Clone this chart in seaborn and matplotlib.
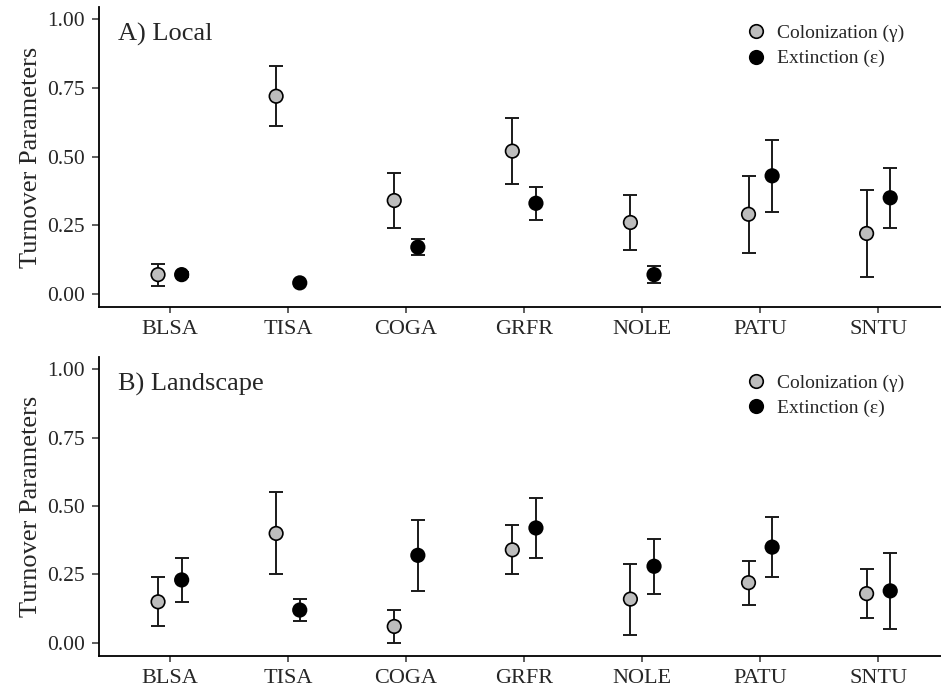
import numpy as np
import pandas as pd
import matplotlib
matplotlib.use("Agg")
import matplotlib.pyplot as plt
import seaborn as sns

species = ["BLSA", "TISA", "COGA", "GRFR", "NOLE", "PATU", "SNTU"]

# A) Local
loc_col = [0.07, 0.72, 0.34, 0.52, 0.26, 0.29, 0.22]
loc_col_lo = [0.03, 0.61, 0.24, 0.40, 0.16, 0.15, 0.06]
loc_col_hi = [0.11, 0.83, 0.44, 0.64, 0.36, 0.43, 0.38]
loc_ext = [0.07, 0.04, 0.17, 0.33, 0.07, 0.43, 0.35]
loc_ext_lo = [0.06, 0.04, 0.14, 0.27, 0.04, 0.30, 0.24]
loc_ext_hi = [0.08, 0.04, 0.20, 0.39, 0.10, 0.56, 0.46]

# B) Landscape
lan_col = [0.15, 0.40, 0.06, 0.34, 0.16, 0.22, 0.18]
lan_col_lo = [0.06, 0.25, 0.00, 0.25, 0.03, 0.14, 0.09]
lan_col_hi = [0.24, 0.55, 0.12, 0.43, 0.29, 0.30, 0.27]
lan_ext = [0.23, 0.12, 0.32, 0.42, 0.28, 0.35, 0.19]
lan_ext_lo = [0.15, 0.08, 0.19, 0.31, 0.18, 0.24, 0.05]
lan_ext_hi = [0.31, 0.16, 0.45, 0.53, 0.38, 0.46, 0.33]

params = ["Colonization (\u03b3)", "Extinction (\u03b5)"]
colors = {params[0]: "#bdbdbd", params[1]: "#000000"}
dodge = 0.1


def make_df(col, col_lo, col_hi, ext, ext_lo, ext_hi):
    rows = []
    for i, sp in enumerate(species):
        rows.append((sp, i - dodge, params[0], col[i], col_lo[i], col_hi[i]))
        rows.append((sp, i + dodge, params[1], ext[i], ext_lo[i], ext_hi[i]))
    return pd.DataFrame(rows, columns=["species", "pos", "param", "est", "lo", "hi"])


sns.set_theme(style="ticks")
plt.rcParams["font.family"] = ["Liberation Serif", "DejaVu Serif"]

fig = plt.figure(figsize=(9.41, 6.89), dpi=100)
ax_top = fig.add_axes([0.1052, 0.5544, 0.8948, 0.4354])
ax_bot = fig.add_axes([0.1052, 0.0479, 0.8948, 0.4340])

panels = [
    (ax_top, "A) Local", make_df(loc_col, loc_col_lo, loc_col_hi, loc_ext, loc_ext_lo, loc_ext_hi)),
    (ax_bot, "B) Landscape", make_df(lan_col, lan_col_lo, lan_col_hi, lan_ext, lan_ext_lo, lan_ext_hi)),
]

for ax, title, df in panels:
    ax.errorbar(df["pos"], df["est"],
                yerr=[df["est"] - df["lo"], df["hi"] - df["est"]],
                fmt="none", ecolor="#1a1a1a", elinewidth=1.4, capsize=4.8,
                capthick=1.4, zorder=2)
    sns.scatterplot(data=df, x="pos", y="est", hue="param", palette=colors,
                    hue_order=params, s=95, edgecolor="black", linewidth=1.2,
                    ax=ax, zorder=3, legend=True)
    ax.set_xlim(-0.6, 6.53)
    ax.set_ylim(-0.048, 1.045)
    ax.set_xticks(range(len(species)))
    ax.set_xticklabels(species)
    ax.set_yticks([0, 0.25, 0.5, 0.75, 1.0])
    ax.set_yticklabels(["0.00", "0.25", "0.50", "0.75", "1.00"])
    ax.set_xlabel("")
    ax.set_ylabel("Turnover Parameters", fontsize=19, labelpad=4)
    ax.tick_params(axis="x", labelsize=16, length=4.5, width=1.1, color="#333333", pad=5)
    ax.tick_params(axis="y", labelsize=15.5, length=5, width=1.1, color="#333333", pad=5)
    for s in ["left", "bottom"]:
        ax.spines[s].set_linewidth(1.3)
        ax.spines[s].set_color("black")
    sns.despine(ax=ax)
    ax.text(0.023, 0.948, title, transform=ax.transAxes, fontsize=19,
            ha="left", va="top")
    leg = ax.legend(loc="upper left", bbox_to_anchor=(0.746, 0.975), frameon=False,
                    fontsize=14, handletextpad=0.05, labelspacing=0.4,
                    borderpad=0, markerscale=1.0)

fig.savefig("out.png", dpi=100)
